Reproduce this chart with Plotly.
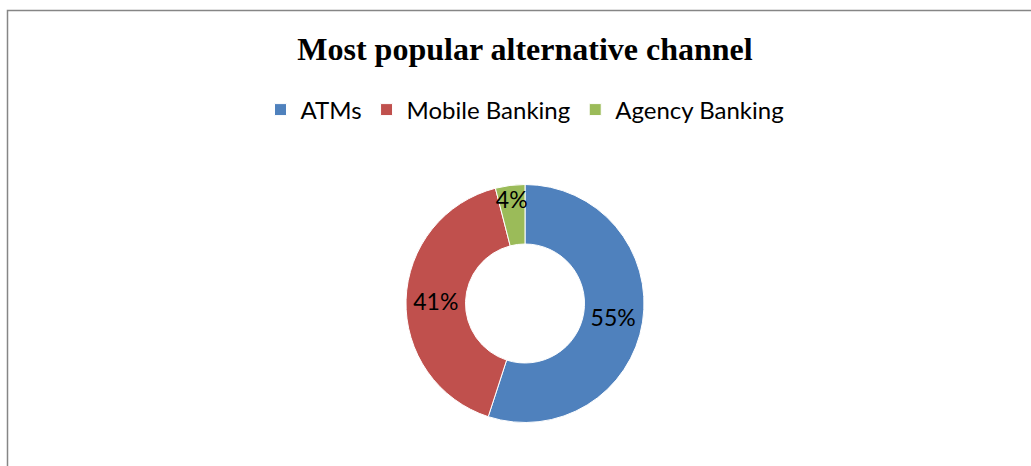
import plotly.graph_objects as go

# Share of respondents naming each alternative banking channel
channels = ["ATMs", "Mobile Banking", "Agency Banking"]
shares = [55, 41, 4]
colors = ["#4F81BD", "#C0504D", "#9BBB59"]

W, H = 1031, 466
cx, cy, r = 525, 303.5, 119  # donut centre and outer radius in pixels

fig = go.Figure(
    go.Pie(
        labels=channels,
        values=shares,
        hole=0.5,
        sort=False,
        direction="clockwise",
        rotation=0,
        marker=dict(colors=colors, line=dict(color="white", width=1)),
        texttemplate="%{value}%",
        textposition="inside",
        insidetextorientation="horizontal",
        textfont=dict(family="Lato", size=23, color="black"),
        domain=dict(
            x=[(cx - r) / W, (cx + r) / W],
            y=[(H - cy - r) / H, (H - cy + r) / H],
        ),
        hoverinfo="label+percent",
    )
)

fig.update_layout(
    width=W,
    height=H,
    margin=dict(l=0, r=0, t=0, b=0),
    paper_bgcolor="white",
    plot_bgcolor="white",
    uniformtext=dict(minsize=23, mode="show"),
    title=dict(
        text="<b>Most popular alternative channel</b>",
        font=dict(family="Liberation Serif", size=32, color="black"),
        x=cx / W,
        xanchor="center",
        y=1 - 49 / H,
        yanchor="middle",
    ),
    legend=dict(
        orientation="h",
        x=cx / W,
        xanchor="center",
        y=1 - 110 / H,
        yanchor="middle",
        font=dict(family="Lato", size=24, color="black"),
        itemwidth=30,
        bgcolor="rgba(0,0,0,0)",
    ),
    shapes=[
        dict(
            type="rect",
            xref="paper",
            yref="paper",
            x0=7.5 / W,
            x1=1.05,
            y0=-0.05,
            y1=1 - 10.5 / H,
            line=dict(color="#868686", width=1.5),
            fillcolor="rgba(0,0,0,0)",
            layer="below",
        )
    ],
)

fig.write_html("out.html")
